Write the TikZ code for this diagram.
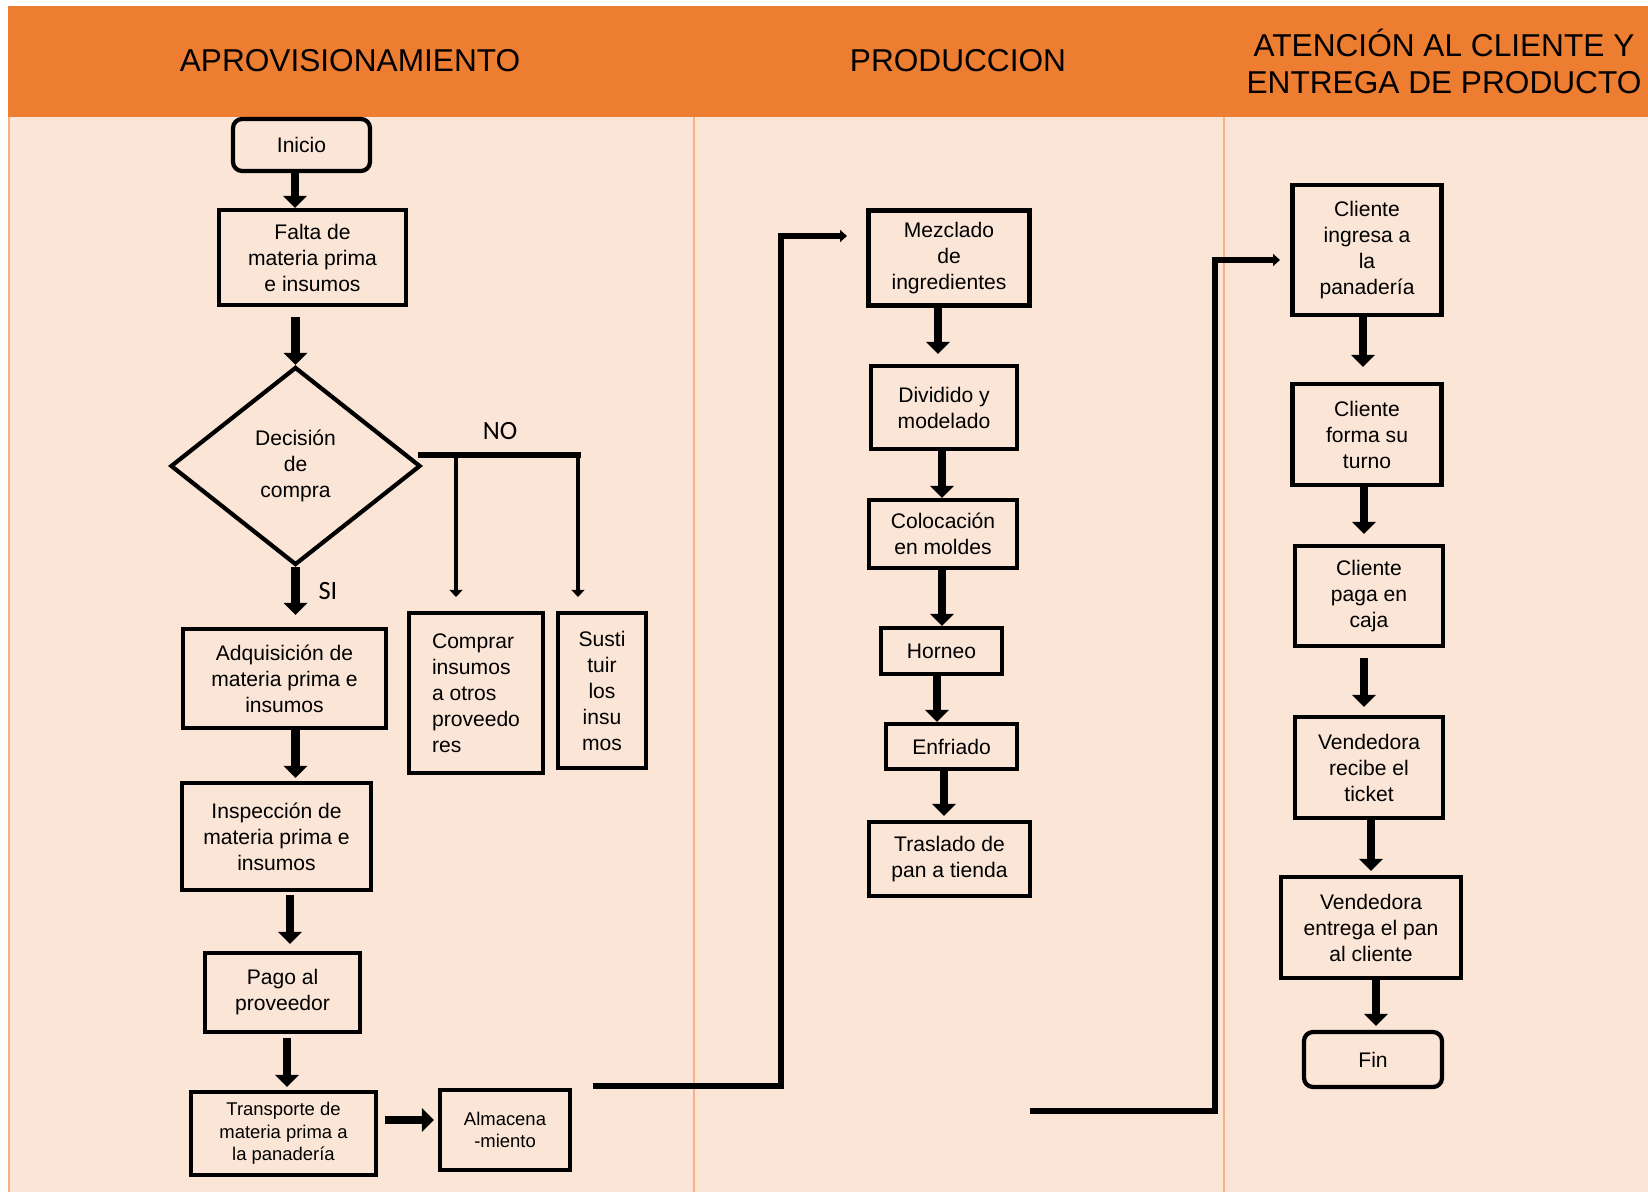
\documentclass[tikz,border=0pt]{standalone}
\usepackage{fontspec}
\setmainfont{Liberation Sans}
\newfontfamily\calibri{Carlito}
\usetikzlibrary{arrows.meta, shapes.geometric}
\definecolor{naranja}{HTML}{ED7D31}
\definecolor{durazno}{HTML}{FBE5D6}
\definecolor{divisor}{HTML}{F4B183}

\begin{document}
\begin{tikzpicture}[
  x=0.02cm, y=-0.02cm,
  caja/.style={draw=black, line width=2.4pt, inner sep=1pt, align=center,
    font=\fontsize{12}{14.8}\selectfont},
  cajachica/.style={caja, font=\fontsize{10.5}{12.8}\selectfont},
  terminal/.style={caja, rounded corners=0.18cm},
  decision/.style={caja, diamond, inner sep=0pt},
  titulo/.style={font=\fontsize{18}{21}\selectfont, align=center},
  etiq/.style={font=\calibri\fontsize{15}{18}\selectfont},
  flecha/.style={line width=5pt, -{Triangle[length=0.24cm, width=0.46cm]}},
  flechita/.style={line width=2.6pt, -{Triangle[length=0.14cm, width=0.26cm]}},
  enlace/.style={line width=3pt, -{Triangle[length=0.14cm, width=0.24cm]}},
  barra/.style={line width=3.2pt},
]
\useasboundingbox (0,0) rectangle (1648,1192);

% ══════════════════════════════════════════════════════
% Fondo, encabezado y columnas
% ══════════════════════════════════════════════════════
\fill[durazno] (8,117) rectangle (1648,1192);
\fill[naranja] (8,6) rectangle (1648,117);
\draw[divisor, line width=1.6pt] (9,117) -- (9,1192);
\draw[divisor, line width=1pt] (694,117) -- (694,1192);
\draw[divisor, line width=1pt] (1224,117) -- (1224,1192);

\node[titulo] (tAprov) at (350,61) {APROVISIONAMIENTO};
\node[titulo] (tProd) at (958,61) {PRODUCCION};
\node[titulo] (tAten) at (1444,61) {ATENCIÓN AL CLIENTE Y\\ENTREGA DE PRODUCTO};

% ══════════════════════════════════════════════════════
% Aprovisionamiento
% ══════════════════════════════════════════════════════
\node[terminal, minimum width=2.74cm, minimum height=1.04cm] (inicio) at (301.5,145) {Inicio};
\node[caja, minimum width=3.74cm, minimum height=1.90cm] (falta) at (312.5,257.5)
  {Falta de\\materia prima\\e insumos};
\node[decision, minimum width=5.0cm, minimum height=3.96cm] (dec) at (295.5,466)
  {Decisión\\de\\compra};
\node[caja, minimum width=4.06cm, minimum height=1.98cm] (adq) at (284.5,678.5)
  {Adquisición de\\materia prima e\\insumos};
\node[caja, align=left, minimum width=2.68cm, minimum height=3.20cm] (compra) at (476,693)
  {Comprar\\insumos\\a otros\\proveedo\\res};
\node[caja, minimum width=1.76cm, minimum height=3.10cm] (sust) at (602,690.5)
  {Susti\\tuir\\los\\insu\\mos};
\node[caja, minimum width=3.78cm, minimum height=2.14cm] (insp) at (276.5,836.5)
  {Inspección de\\materia prima e\\insumos};
\node[caja, minimum width=3.10cm, minimum height=1.58cm] (pago) at (282.5,992.5)
  {Pago al\\proveedor};
\node[cajachica, minimum width=3.70cm, minimum height=1.66cm] (trans) at (283.5,1133.5)
  {Transporte de\\materia prima a\\la panadería};
\node[cajachica, minimum width=2.60cm, minimum height=1.60cm] (alm) at (505,1130)
  {Almacena\\-miento};

\node[etiq] (si) at (328,591) {SI};
\node[etiq] (no) at (500,431) {NO};

\draw[flecha] (inicio.south -| 295,0) -- (falta.north -| 295,0);
\draw[flecha, shorten <=0.2cm] (falta.south -| dec.north) -- (dec.north);
\draw[flecha, shorten >=0.24cm] (dec.south) -- (adq.north -| dec.south);
\draw[flecha, shorten >=0.06cm] (adq.south -| dec.south) -- (insp.north -| dec.south);
\draw[flecha, shorten <=0.06cm, shorten >=0.14cm] (insp.south -| 290,0) -- (pago.north -| 290,0);
\draw[flecha, shorten <=0.08cm, shorten >=0.06cm] (pago.south -| 287,0) -- (trans.north -| 287,0);
\draw[flecha, shorten <=0.14cm, shorten >=0.08cm] (trans.east |- 0,1120) -- (alm.west |- 0,1120);

% rama NO
\draw[barra] ([shift={(-5,-11)}]dec.east) coordinate (ramaNO) -- ++(163,0);
\draw[flechita, shorten >=0.28cm] (ramaNO -| 456,0) -- (compra.north -| 456,0);
\draw[flechita, shorten >=0.28cm] (ramaNO -| 578,0) -- (sust.north -| 578,0);

% ══════════════════════════════════════════════════════
% Produccion
% ══════════════════════════════════════════════════════
\node[caja, minimum width=3.22cm, minimum height=1.90cm] (mezcla) at (949,258)
  {Mezclado\\de\\ingredientes};
\node[caja, minimum width=2.92cm, minimum height=1.66cm] (divid) at (944,407.5)
  {Dividido y\\modelado};
\node[caja, minimum width=2.96cm, minimum height=1.36cm] (coloc) at (943,534)
  {Colocación\\en moldes};
\node[caja, minimum width=2.42cm, minimum height=0.92cm] (horno) at (941.5,651) {Horneo};
\node[caja, minimum width=2.62cm, minimum height=0.90cm] (enfri) at (951.5,746.5) {Enfriado};
\node[caja, minimum width=3.22cm, minimum height=1.48cm] (trasl) at (949.5,859)
  {Traslado de\\pan a tienda};

\draw[flecha, shorten >=0.2cm] (mezcla.south -| 938,0) -- (divid.north -| 938,0);
\draw[flecha] (divid.south -| 942,0) -- (coloc.north -| 942,0);
\draw[flecha] (coloc.south -| 942,0) -- (horno.north -| 942,0);
\draw[flecha] (horno.south -| 937,0) -- (enfri.north -| 937,0);
\draw[flecha, shorten >=0.08cm] (enfri.south -| 944,0) -- (trasl.north -| 944,0);

% ══════════════════════════════════════════════════════
% Atencion al cliente y entrega
% ══════════════════════════════════════════════════════
\node[caja, minimum width=2.98cm, minimum height=2.60cm] (ingresa) at (1367,250)
  {Cliente\\ingresa a\\la\\panadería};
\node[caja, minimum width=2.98cm, minimum height=2.02cm] (turno) at (1367,434.5)
  {Cliente\\forma su\\turno};
\node[caja, minimum width=2.96cm, minimum height=2.00cm] (caja) at (1369,596)
  {Cliente\\paga en\\caja};
\node[caja, minimum width=2.96cm, minimum height=2.02cm] (ticket) at (1369,767.5)
  {Vendedora\\recibe el\\ticket};
\node[caja, minimum width=3.60cm, minimum height=2.02cm] (entrega) at (1371,927.5)
  {Vendedora\\entrega el pan\\al cliente};
\node[terminal, minimum width=2.76cm, minimum height=1.10cm] (fin) at (1373,1059.5) {Fin};

\draw[flecha, shorten >=0.3cm] (ingresa.south -| 1363,0) -- (turno.north -| 1363,0);
\draw[flecha, shorten >=0.2cm] (turno.south -| 1364,0) -- (caja.north -| 1364,0);
\draw[flecha, shorten <=0.2cm, shorten >=0.16cm] (caja.south -| 1364,0) -- (ticket.north -| 1364,0);
\draw[flecha, shorten >=0.08cm] (ticket.south -| 1371,0) -- (entrega.north -| 1371,0);
\draw[flecha, shorten >=0.08cm] (entrega.south -| 1376,0) -- (fin.north -| 1376,0);

% ══════════════════════════════════════════════════════
% Enlaces entre columnas
% ══════════════════════════════════════════════════════
\coordinate (salidaA) at (593,1086);
\coordinate (llegadaB) at (847,236);
\draw[enlace] (salidaA) -| (781,236) -- (llegadaB);

\coordinate (salidaB) at (1030,1111);
\coordinate (llegadaC) at (1280,260);
\draw[enlace] (salidaB) -| (1215,260) -- (llegadaC);

\end{tikzpicture}
\end{document}
